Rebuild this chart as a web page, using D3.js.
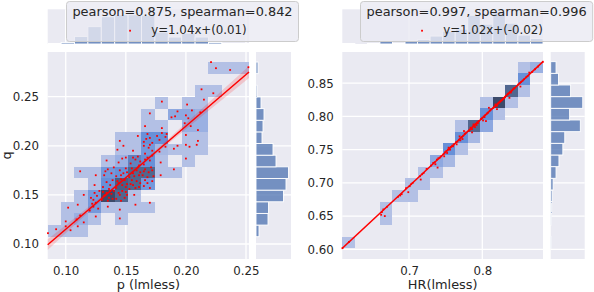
<!DOCTYPE html>
<html><head><meta charset="utf-8">
<script src="https://cdn.jsdelivr.net/npm/d3@7"></script>
<style>
html,body{margin:0;padding:0;background:#fff;}
svg{display:block;font-family:"DejaVu Sans",sans-serif;}
</style></head><body>
<svg id="chart" width="594" height="292"></svg>
<script>
// ---------------- DATA ----------------
// Left panel: p vs q
const leftXDomain = [0.0850, 0.2525];
const leftYDomain = [0.0847, 0.2955];
const leftXTicks = [0.10, 0.15, 0.20, 0.25];
const leftYTicks = [0.10, 0.15, 0.20, 0.25];
const leftXBins = {start: 0.0850, width: 0.01115, n: 15};
const leftYBins = {start: 0.1074, width: 0.01186, n: 15};
// 2D histogram counts, rows from top (r14) to bottom (r0), columns c0..c14
const leftCounts = [
  [0,0,0,0,0,0,0,0,0,0,0,0,1,1,1],
  [0,0,0,0,0,0,0,0,0,0,0,0,0,0,0],
  [0,0,0,0,0,0,0,0,0,0,0,1,1,0,0],
  [0,0,0,0,0,0,0,0,1,0,1,1,0,0,0],
  [0,0,0,0,0,0,0,1,0,4,4,3,0,0,0],
  [0,0,0,0,0,0,0,1,1,0,3,3,0,0,0],
  [0,0,0,0,0,1,1,7,7,0,1,1,0,0,0],
  [0,0,0,0,0,1,1,6,2,1,1,1,0,0,0],
  [0,0,0,0,1,3,8,7,1,0,1,0,0,0,0],
  [0,0,1,1,6,7,10,10,1,1,0,0,0,0,0],
  [0,0,0,1,7,11,10,6,0,0,0,0,0,0,0],
  [0,0,1,6,13,10,1,0,0,0,0,0,0,0,0],
  [0,1,1,6,1,1,1,1,0,0,0,0,0,0,0],
  [0,1,3,1,0,1,0,0,0,0,0,0,0,0,0],
  [1,1,1,0,0,0,0,0,0,0,0,0,0,0,0]
];
const leftMargX = [1,3,15,35,55,59,59,58,24,14,22,14,3,1,1];       // p histogram, c0..c14
const leftMargY = [6,24,25,55,60,65,40,34,12,14,16,10,2,0,4];      // q histogram, r0..r14
const leftPoints = [
 [0.2209,0.2852],[0.2250,0.2790],[0.2368,0.2772],[0.2520,0.2800],
 [0.2130,0.2575],[0.2228,0.2535],
 [0.1800,0.2450],[0.2010,0.2420],[0.2150,0.2470],
 [0.1700,0.2330],[0.1880,0.2290],[0.1930,0.2350],[0.1910,0.2300],[0.2000,0.2310],[0.2050,0.2360],[0.2020,0.2280],[0.2120,0.2340],
 [0.1660,0.2200],[0.1800,0.2180],[0.2040,0.2200],[0.1990,0.2230],[0.2100,0.2160],
 [0.1450,0.2050],[0.1600,0.2100],[0.1650,0.2040],[0.1680,0.2120],[0.1700,0.2080],[0.1720,0.2030],[0.1670,0.2070],[0.1760,0.2100],[0.1800,0.2130],[0.1780,0.2060],[0.1830,0.2090],[0.1840,0.2120],[0.2000,0.2110],[0.2100,0.2050],
 [0.1430,0.1960],[0.1480,0.2000],[0.1560,0.1950],[0.1660,0.1920],[0.1690,0.1980],[0.1700,0.2010],[0.1720,0.1950],[0.1650,0.2000],[0.1780,0.1940],[0.1830,0.1990],[0.1900,0.1970],[0.1930,0.2000],[0.2000,0.2010],[0.2030,0.1990],[0.2090,0.2010],
 [0.1340,0.1850],[0.1440,0.1830],[0.1470,0.1870],[0.1500,0.1880],[0.1540,0.1820],[0.1580,0.1860],[0.1600,0.1890],[0.1560,0.1880],[0.1620,0.1840],[0.1610,0.1800],[0.1650,0.1810],[0.1680,0.1880],[0.1700,0.1850],[0.1720,0.1900],[0.1660,0.1860],[0.1790,0.1830],[0.2000,0.1870],
 [0.1120,0.1740],[0.1250,0.1700],[0.1320,0.1700],[0.1350,0.1760],[0.1380,0.1720],[0.1400,0.1780],[0.1330,0.1740],[0.1420,0.1690],[0.1450,0.1750],[0.1480,0.1720],[0.1500,0.1770],[0.1460,0.1700],[0.1510,0.1730],[0.1530,0.1680],[0.1560,0.1720],[0.1590,0.1750],[0.1610,0.1700],[0.1550,0.1770],[0.1600,0.1780],[0.1620,0.1730],[0.1570,0.1690],[0.1640,0.1700],[0.1660,0.1760],[0.1690,0.1730],[0.1710,0.1780],[0.1730,0.1690],[0.1680,0.1680],[0.1720,0.1750],[0.1650,0.1740],[0.1790,0.1700],[0.1900,0.1760],
 [0.1240,0.1600],[0.1310,0.1580],[0.1340,0.1630],[0.1370,0.1600],[0.1390,0.1650],[0.1360,0.1560],[0.1420,0.1570],[0.1440,0.1620],[0.1470,0.1600],[0.1490,0.1650],[0.1500,0.1580],[0.1460,0.1660],[0.1430,0.1640],[0.1510,0.1610],[0.1530,0.1560],[0.1560,0.1600],[0.1590,0.1640],[0.1610,0.1580],[0.1550,0.1650],[0.1580,0.1570],[0.1620,0.1620],[0.1540,0.1610],[0.1650,0.1590],[0.1680,0.1620],[0.1700,0.1570],[0.1660,0.1650],[0.1720,0.1640],
 [0.1150,0.1500],[0.1210,0.1470],[0.1240,0.1520],[0.1260,0.1490],[0.1280,0.1540],[0.1230,0.1450],[0.1300,0.1450],[0.1320,0.1490],[0.1340,0.1520],[0.1360,0.1470],[0.1380,0.1510],[0.1400,0.1540],[0.1310,0.1530],[0.1350,0.1440],[0.1390,0.1460],[0.1330,0.1500],[0.1370,0.1540],[0.1420,0.1460],[0.1450,0.1500],[0.1470,0.1540],[0.1490,0.1470],[0.1440,0.1520],[0.1510,0.1500],[0.1460,0.1440],[0.1500,0.1530],[0.1570,0.1500],
 [0.1020,0.1370],[0.1100,0.1400],[0.1200,0.1340],[0.1230,0.1380],[0.1250,0.1420],[0.1270,0.1360],[0.1220,0.1410],[0.1350,0.1380],[0.1450,0.1350],[0.1580,0.1400],[0.1700,0.1420],
 [0.1000,0.1230],[0.1090,0.1250],[0.1120,0.1290],[0.1150,0.1220],[0.1250,0.1280],[0.1450,0.1260],
 [0.0852,0.1110],[0.0920,0.1150],[0.1000,0.1180],[0.1040,0.1140],[0.1100,0.1180]
];
const leftFit = {slope: 1.05, intercept: 0.010};
const leftCiX    = [0.085, 0.11, 0.135, 0.155, 0.175, 0.20, 0.225, 0.2525];
const leftCiHalf = [0.0055, 0.0035, 0.0019, 0.0015, 0.0019, 0.0032, 0.0045, 0.0060];
const leftTitle = "pearson=0.875, spearman=0.842";
const leftLabel = "y=1.04x+(0.01)";
const leftXLabel = "p (lmless)";
const leftYLabel = "q";

// Right panel: HR
const rightXDomain = [0.609, 0.8828];
const rightYDomain = [0.5854, 0.897];
const rightXTicks = [0.7, 0.8];
const rightYTicks = [0.60, 0.65, 0.70, 0.75, 0.80, 0.85];
const rightXBins = {start: 0.609, width: 0.017113, n: 16};
const rightYBins = {start: 0.6015, width: 0.01756, n: 16};
// [column, row(from bottom), count]
const rightCells = [
 [0,0,1],[3,2,1],[3,3,1],[4,4,1],[5,4,1],[5,5,1],[6,5,1],[6,6,1],[7,6,1],[7,7,4],
 [8,7,2],[8,8,7],[9,8,1],[9,9,7],[9,10,1],[10,9,2],[10,10,10],[11,10,4],[11,11,7],
 [11,12,1],[12,11,1],[12,12,13],[13,12,1],[13,13,10],[14,13,1],[14,14,7],[14,15,1],[15,15,3]
];
const rightMargX = [1,0,1,6,1,7,9,16,26,30,58,40,64,42,18,11];
const rightMargY = [1,0,1,2,3,5,11,17,25,29,61,39,66,41,16,11];
const rightPoints = [
 [0.6092,0.6017],[0.6180,0.6110],
 [0.6630,0.6560],[0.6650,0.6600],[0.6670,0.6500],[0.6700,0.6640],[0.6620,0.6520],
 [0.6850,0.6790],[0.6880,0.6810],[0.6900,0.6830],
 [0.6960,0.6920],[0.6990,0.6860],[0.7010,0.6950],[0.7030,0.6980],[0.7050,0.7000],
 [0.7150,0.7100],[0.7180,0.7130],[0.7200,0.7150],[0.7240,0.7210],[0.7160,0.7050],
 [0.7300,0.7260],[0.7330,0.7300],[0.7350,0.7310],[0.7380,0.7350],[0.7400,0.7370],[0.7420,0.7380],[0.7360,0.7280],[0.7440,0.7400],[0.7390,0.7230],
 [0.7470,0.7430],[0.7490,0.7460],[0.7510,0.7480],[0.7530,0.7500],[0.7550,0.7520],[0.7570,0.7540],[0.7590,0.7560],[0.7610,0.7580],[0.7520,0.7450],[0.7560,0.7500],[0.7600,0.7550],[0.7540,0.7530],[0.7480,0.7400],
 [0.7640,0.7610],[0.7660,0.7620],[0.7680,0.7650],[0.7700,0.7670],[0.7720,0.7690],[0.7740,0.7710],[0.7760,0.7740],[0.7780,0.7760],[0.7650,0.7580],[0.7700,0.7640],[0.7750,0.7780],[0.7690,0.7700],[0.7730,0.7660],
 [0.7810,0.7780],[0.7830,0.7800],[0.7850,0.7820],[0.7870,0.7850],[0.7890,0.7870],[0.7910,0.7890],[0.7930,0.7910],[0.7950,0.7930],[0.7820,0.7790],[0.7840,0.7830],[0.7860,0.7810],[0.7880,0.7880],[0.7900,0.7840],[0.7920,0.7870],[0.7940,0.7900],[0.7860,0.7760],
 [0.7980,0.7960],[0.8000,0.7980],[0.8020,0.8000],[0.8040,0.8020],[0.8060,0.8040],[0.8080,0.8060],[0.8100,0.8090],[0.8120,0.8110],[0.8010,0.7940],[0.8050,0.7930],[0.8090,0.8130],[0.8030,0.7990],[0.8070,0.8050],
 [0.8150,0.8130],[0.8170,0.8150],[0.8190,0.8170],[0.8210,0.8190],[0.8230,0.8210],[0.8250,0.8230],[0.8270,0.8250],[0.8290,0.8270],[0.8310,0.8290],[0.8160,0.8140],[0.8180,0.8180],[0.8200,0.8160],[0.8220,0.8200],[0.8240,0.8220],[0.8260,0.8240],[0.8280,0.8260],[0.8200,0.8110],[0.8300,0.8280],
 [0.8320,0.8310],[0.8340,0.8330],[0.8360,0.8350],[0.8380,0.8370],[0.8400,0.8390],[0.8420,0.8410],[0.8440,0.8430],[0.8350,0.8340],[0.8390,0.8360],[0.8430,0.8420],[0.8370,0.8280],
 [0.8490,0.8480],[0.8510,0.8500],[0.8530,0.8520],[0.8550,0.8540],[0.8570,0.8560],[0.8600,0.8590],[0.8620,0.8610],[0.8640,0.8660],[0.8520,0.8450],
 [0.8680,0.8670],[0.8720,0.8710],[0.8760,0.8750],[0.8826,0.8823]
];
const rightFit = {slope: 1.026, intercept: -0.0233};
const rightCiX    = [0.609, 0.70, 0.78, 0.8828];
const rightCiHalf = [0.0018, 0.0008, 0.0006, 0.0014];
const rightTitle = "pearson=0.997, spearman=0.996";
const rightLabel = "y=1.02x+(-0.02)";
const rightXLabel = "HR(lmless)";
const rightYLabel = "";

// colour ramp for 2D histogram (count -> colour)
const cmapCounts = [1, 4, 7, 10, 13];
const cmapColors = ["#b3c0e5", "#8ea8e0", "#6890d8", "#51678f", "#3c4a6a"];

// ---------------- DRAWING ----------------
const svg = d3.select("#chart");
const BG = "#eaeaf2", TXT = "#262626";
const color2d = d3.scaleLinear().domain(cmapCounts).range(cmapColors).clamp(true);

function buildCells(matrix) {
  const n = matrix.length, out = [];
  matrix.forEach((row, k) => row.forEach((c, i) => { if (c > 0) out.push([i, n - 1 - k, c]); }));
  return out;
}

function drawPanel(p) {
  const g = svg.append("g");
  const x = d3.scaleLinear().domain(p.xDomain).range([p.box.x0, p.box.x1]);
  const y = d3.scaleLinear().domain(p.yDomain).range([p.box.y1, p.box.y0]);
  const mTop = d3.scaleLinear().domain([0, p.margMax]).range([p.top.y1, p.top.y0]);
  const mRight = d3.scaleLinear().domain([0, p.margMax]).range([p.right.x0, p.right.x1]);

  // backgrounds
  g.append("rect").attr("x", p.box.x0).attr("y", p.box.y0).attr("width", p.box.x1 - p.box.x0).attr("height", p.box.y1 - p.box.y0).attr("fill", BG);
  g.append("rect").attr("x", p.box.x0).attr("y", p.top.y0).attr("width", p.box.x1 - p.box.x0).attr("height", p.top.y1 - p.top.y0).attr("fill", BG);
  g.append("rect").attr("x", p.right.x0).attr("y", p.box.y0).attr("width", p.right.x1 - p.right.x0).attr("height", p.box.y1 - p.box.y0).attr("fill", BG);

  // grid
  const grid = g.append("g").attr("stroke", "#fff").attr("stroke-width", 1.3);
  p.xTicks.forEach(t => {
    grid.append("line").attr("x1", x(t)).attr("x2", x(t)).attr("y1", p.box.y0).attr("y2", p.box.y1);
    grid.append("line").attr("x1", x(t)).attr("x2", x(t)).attr("y1", p.top.y0).attr("y2", p.top.y1);
  });
  p.yTicks.forEach(t => {
    grid.append("line").attr("y1", y(t)).attr("y2", y(t)).attr("x1", p.box.x0).attr("x2", p.box.x1);
    grid.append("line").attr("y1", y(t)).attr("y2", y(t)).attr("x1", p.right.x0).attr("x2", p.right.x1);
  });

  // 2D histogram
  g.append("g").selectAll("rect").data(p.cells).join("rect")
    .attr("x", d => x(p.xBins.start + d[0] * p.xBins.width))
    .attr("width", d => x(p.xBins.start + (d[0] + 1) * p.xBins.width) - x(p.xBins.start + d[0] * p.xBins.width))
    .attr("y", d => y(p.yBins.start + (d[1] + 1) * p.yBins.width))
    .attr("height", d => y(p.yBins.start + d[1] * p.yBins.width) - y(p.yBins.start + (d[1] + 1) * p.yBins.width))
    .attr("fill", d => color2d(d[2]))
    .attr("shape-rendering", "crispEdges");

  // scatter
  g.append("g").selectAll("rect").data(p.points).join("rect")
    .attr("x", d => x(d[0]) - 0.9).attr("y", d => y(d[1]) - 0.9)
    .attr("width", 1.8).attr("height", 1.8).attr("fill", "#ff0000");

  // CI band
  const ci = p.ciX.map((v, i) => [v, p.ciHalf[i]]);
  const f = v => p.fit.slope * v + p.fit.intercept;
  g.append("path").datum(ci)
    .attr("d", d3.area().curve(d3.curveMonotoneX)
      .x(d => x(d[0])).y0(d => y(f(d[0]) - d[1])).y1(d => y(f(d[0]) + d[1])))
    .attr("fill", "rgba(255,0,0,0.16)");

  // regression line
  g.append("line")
    .attr("x1", x(p.xDomain[0])).attr("y1", y(f(p.xDomain[0])))
    .attr("x2", x(p.xDomain[1])).attr("y2", y(f(p.xDomain[1])))
    .attr("stroke", "#ff0000").attr("stroke-width", 1.5);

  // marginal histograms
  const barFill = "rgba(76,114,176,0.75)";
  g.append("g").selectAll("rect").data(p.margX.map((c, i) => [i, c]).filter(d => d[1] > 0)).join("rect")
    .attr("x", d => x(p.xBins.start + d[0] * p.xBins.width))
    .attr("width", d => x(p.xBins.start + (d[0] + 1) * p.xBins.width) - x(p.xBins.start + d[0] * p.xBins.width))
    .attr("y", d => mTop(d[1])).attr("height", d => mTop(0) - mTop(d[1]))
    .attr("fill", barFill).attr("stroke", "#fff").attr("stroke-width", 0.9);
  g.append("g").selectAll("rect").data(p.margY.map((c, i) => [i, c]).filter(d => d[1] > 0)).join("rect")
    .attr("y", d => y(p.yBins.start + (d[0] + 1) * p.yBins.width))
    .attr("height", d => y(p.yBins.start + d[0] * p.yBins.width) - y(p.yBins.start + (d[0] + 1) * p.yBins.width))
    .attr("x", mRight(0)).attr("width", d => mRight(d[1]) - mRight(0))
    .attr("fill", barFill).attr("stroke", "#fff").attr("stroke-width", 0.9);

  // axes
  const ax = g.append("g").attr("transform", `translate(0,${p.box.y1})`)
    .call(d3.axisBottom(x).tickValues(p.xTicks).tickFormat(p.xFmt).tickSize(0).tickPadding(7.6));
  const ay = g.append("g").attr("transform", `translate(${p.box.x0},0)`)
    .call(d3.axisLeft(y).tickValues(p.yTicks).tickFormat(d3.format(".2f")).tickSize(0).tickPadding(8.6));
  [ax, ay].forEach(a => {
    a.select(".domain").remove();
    a.selectAll("text").attr("fill", TXT).style("font-size", "11.8px").style("font-family", '"DejaVu Sans",sans-serif');
  });

  // axis labels
  g.append("text").attr("x", (p.box.x0 + p.box.x1) / 2).attr("y", 288.5)
    .attr("text-anchor", "middle").attr("fill", TXT).style("font-size", "12.9px").text(p.xLabel);
  if (p.yLabel) {
    g.append("text").attr("transform", `translate(11,${(p.box.y0 + p.box.y1) / 2}) rotate(-90)`)
      .attr("text-anchor", "middle").attr("fill", TXT).style("font-size", "12.9px").text(p.yLabel);
  }
}

function drawLegend(l) {
  const g = svg.append("g");
  g.append("rect").attr("x", l.x0).attr("y", l.y0).attr("width", l.x1 - l.x0).attr("height", l.y1 - l.y0)
    .attr("rx", 3).attr("fill", "rgba(234,234,242,0.8)").attr("stroke", "#cccccc").attr("stroke-width", 1);
  const cx = (l.x0 + l.x1) / 2;
  g.append("text").attr("x", cx).attr("y", l.y0 + 14.6).attr("text-anchor", "middle")
    .attr("fill", TXT).style("font-size", "12.9px").text(l.title);
  const t = g.append("text").attr("y", l.y0 + 32).attr("fill", TXT).style("font-size", "11.8px").text(l.label);
  const tw = t.node().getComputedTextLength();
  const rowW = 23.6 + 9.4 + tw;
  const start = cx - rowW / 2;
  t.attr("x", start + 33);
  g.append("rect").attr("x", start + 11.8 - 0.9).attr("y", l.y0 + 28.3).attr("width", 1.8).attr("height", 1.8).attr("fill", "#ff0000");
}

drawPanel({
  box: {x0: 47.7, x1: 249, y0: 52, y1: 259}, top: {y0: 9.3, y1: 44}, right: {x0: 256, x1: 291},
  xDomain: leftXDomain, yDomain: leftYDomain, xTicks: leftXTicks, yTicks: leftYTicks,
  xFmt: d3.format(".2f"), xBins: leftXBins, yBins: leftYBins, cells: buildCells(leftCounts),
  margX: leftMargX, margY: leftMargY, margMax: 70, points: leftPoints,
  fit: leftFit, ciX: leftCiX, ciHalf: leftCiHalf, xLabel: leftXLabel, yLabel: leftYLabel
});
drawPanel({
  box: {x0: 342.3, x1: 543, y0: 52, y1: 259}, top: {y0: 9.3, y1: 44}, right: {x0: 550.7, x1: 584.7},
  xDomain: rightXDomain, yDomain: rightYDomain, xTicks: rightXTicks, yTicks: rightYTicks,
  xFmt: d3.format(".1f"), xBins: rightXBins, yBins: rightYBins, cells: rightCells,
  margX: rightMargX, margY: rightMargY, margMax: 70, points: rightPoints,
  fit: rightFit, ciX: rightCiX, ciHalf: rightCiHalf, xLabel: rightXLabel, yLabel: rightYLabel
});
drawLegend({x0: 66.5, x1: 298.5, y0: 1.5, y1: 41.5, title: leftTitle, label: leftLabel});
drawLegend({x0: 360.5, x1: 592.7, y0: 1.5, y1: 41.5, title: rightTitle, label: rightLabel});
</script></body></html>
